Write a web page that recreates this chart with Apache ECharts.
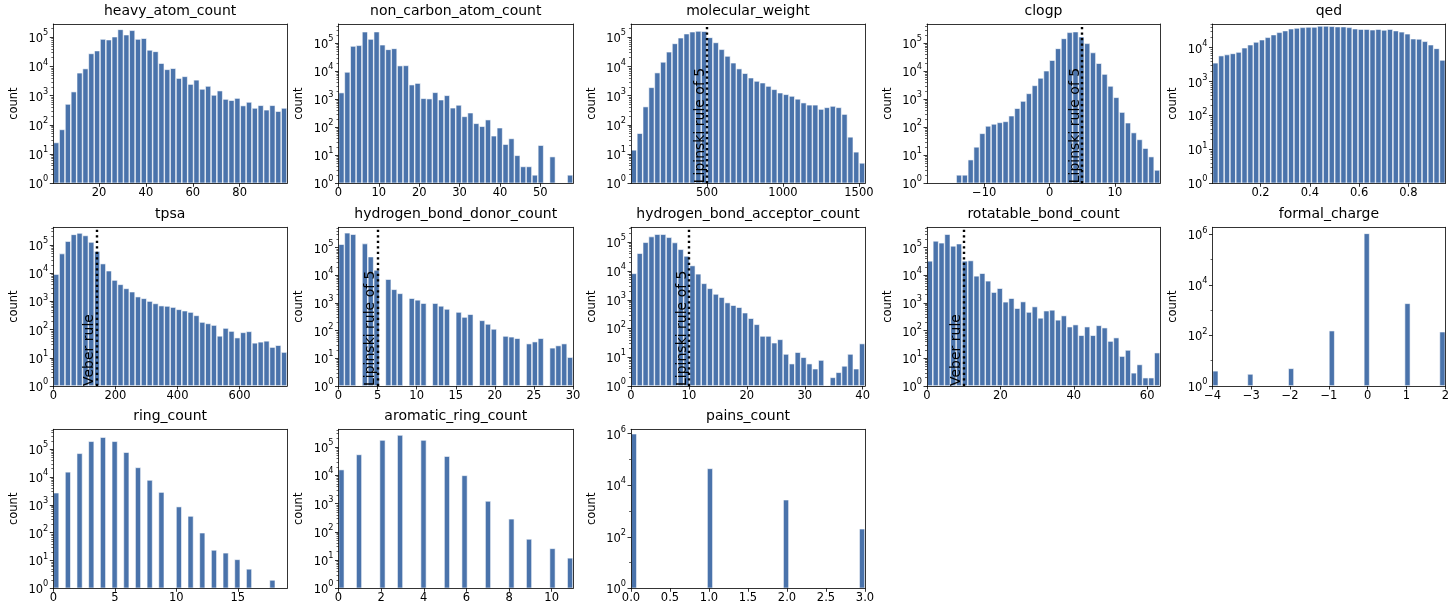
<!DOCTYPE html>
<html>
<head>
<meta charset="utf-8">
<script src="https://cdn.jsdelivr.net/npm/echarts@6/dist/echarts.min.js"></script>
<style>
html,body{margin:0;padding:0;background:#fff;}
#chart{width:1456px;height:616px;}
</style>
</head>
<body>
<div id="chart"></div>
<script>
// ---------- DATA (counts per histogram bin, 40 bins each) ----------
const heavyAtomCount = [25,70,520,1380,6100,8500,28000,35000,87000,83000,105000,187000,123000,174000,87000,93000,37000,33000,13000,8000,8700,4000,4600,2500,3500,1700,2150,1060,1490,770,700,830,460,610,380,470,330,470,295,380];
const nonCarbonAtomCount = [1740,9500,80000,85000,260000,142000,262000,89000,61000,66000,16000,16300,3340,3800,1090,1060,1780,970,1390,500,630,246,333,139,109,188,50,97,25,40,10,4,4,2,23,0,9,0,0,2];
const molecularWeight = [14,52,425,1940,6200,14400,32000,62000,97000,134000,156000,165000,162000,100000,67000,39000,23000,13500,8500,5900,4150,3200,2800,2150,1660,1270,1120,980,780,580,490,490,350,400,445,400,235,39,12,5];
const clogp = [0,0,0,0,0,2,2,7,20,61,112,132,150,163,260,480,870,1630,3150,5800,10500,25000,66000,150000,247000,262000,173000,100000,47000,19500,8000,3000,1180,350,146,65,37,18,9,3];
const qed = [3600,5850,6300,6800,7450,10000,12300,14800,17300,20300,24400,28500,32000,36500,38200,40000,41000,41000,44000,44000,43000,42000,42000,40000,36500,35500,35500,34000,35500,33500,35500,32000,29500,25800,18500,18200,15500,12300,9600,4350];
const tpsa = [9300,50000,138000,240000,268000,219000,128000,61000,22000,12300,5750,4050,2900,2220,1480,1290,1030,850,710,690,630,525,470,420,320,186,166,145,60,114,89,52,80,87,34,37,40,24,28,16];
const hbdValues = [0,1,2,3,4,5,6,7,8,9,10,11,12,13,14,15,16,17,18,19,20,21,22,23,24,25,26,27,28,29,30];
const hbdCounts = [132000,340000,302000,139000,47000,15500,7200,3100,2220,1480,1290,980,980,780,605,470,310,390,235,174,115,64,60,53,34,40,53,24,29,34,11];
const hbaCount = [8300,41500,100000,158000,190000,190000,149000,98000,57000,33500,15500,8000,3730,2500,1590,1230,800,645,550,355,228,140,55,55,32,42,13,6,15,10,6,4,8,0,2,3,5,13,4,30];
const rotatableBondCount = [33000,174000,148000,302000,115000,138000,33000,34000,9500,11800,6300,2450,3400,1100,1480,645,1120,470,740,288,525,560,245,350,139,165,68,139,68,155,128,42,56,12,20,3,6,2,2,16];
const formalChargeValues = [-4,-3,-2,-1,0,1,2];
const formalChargeCounts = [4,3,5,155,1100000,1870,141];
const ringValues = [0,1,2,3,4,5,6,7,8,9,10,11,12,13,14,15,16,18];
const ringCounts = [2750,15500,72000,195000,275000,195000,79000,22400,7900,2900,870,400,100,24,19,11,5,2];
const aromaticValues = [0,1,2,3,4,5,6,7,8,9,10,11];
const aromaticCounts = [16000,55000,178000,268000,178000,48000,10000,1240,290,56,26,12];
const painsValues = [0,1,2,3];
const painsCounts = [1000000,45000,2750,205];

// ---------- TICK LABELS ----------
const heavyTicks = [20,40,60,80];
const nonCarbonTicks = [0,10,20,30,40,50];
const mwTicks = [500,1000,1500];
const clogpTicks = [-10,0,10];
const qedTicks = [0.2,0.4,0.6,0.8];
const tpsaTicks = [0,200,400,600];
const hbdTicks = [0,5,10,15,20,25,30];
const hbaTicks = [0,10,20,30,40];
const rotTicks = [0,20,40,60];
const formalTicks = [-4,-3,-2,-1,0,1,2];
const ringTicks = [0,5,10,15];
const aromaticTicks = [0,2,4,6,8,10];
const painsTicks = [0,0.5,1,1.5,2,2.5,3];

// ---------- LAYOUT ----------
const ROWS = [[24,183.3],[227.3,386],[429.3,588.3]];
const COLS = [[53.3,287],[338.5,573],[631,865],[927,1160],[1212.5,1445.3]];
const N_BINS = 40;
const BAR_COLOR = '#4a73ab';
const FONT = 'DejaVu Sans';

const panels = [
  {title:'heavy_atom_count', bins:heavyAtomCount, xMin:0.5, xMax:100.2, yExp:5.455, ticks:heavyTicks, row:0, col:0},
  {title:'non_carbon_atom_count', bins:nonCarbonAtomCount, xMin:0, xMax:58.1, yExp:5.69, ticks:nonCarbonTicks, row:0, col:1},
  {title:'molecular_weight', bins:molecularWeight, xMin:0, xMax:1540, yExp:5.457, ticks:mwTicks, row:0, col:2, ref:{x:500, text:'Lipinski rule of 5'}},
  {title:'clogp', bins:clogp, xMin:-18.75, xMax:16.9, yExp:5.69, ticks:clogpTicks, row:0, col:3, ref:{x:5, text:'Lipinski rule of 5'}},
  {title:'qed', bins:qed, xMin:0.005, xMax:0.95, yExp:4.70, ticks:qedTicks, row:0, col:4},
  {title:'tpsa', bins:tpsa, xMin:0, xMax:752.7, yExp:5.63, ticks:tpsaTicks, row:1, col:0, ref:{x:140, text:'Veber rule'}},
  {title:'hydrogen_bond_donor_count', values:hbdValues, counts:hbdCounts, xMin:0, xMax:30, yExp:5.73, ticks:hbdTicks, row:1, col:1, ref:{x:5, text:'Lipinski rule of 5'}},
  {title:'hydrogen_bond_acceptor_count', bins:hbaCount, xMin:0, xMax:40.4, yExp:5.52, ticks:hbaTicks, row:1, col:2, ref:{x:10, text:'Lipinski rule of 5'}},
  {title:'rotatable_bond_count', bins:rotatableBondCount, xMin:0, xMax:63.5, yExp:5.73, ticks:rotTicks, row:1, col:3, ref:{x:10, text:'Veber rule'}},
  {title:'formal_charge', values:formalChargeValues, counts:formalChargeCounts, xMin:-4, xMax:2, yExp:6.28, yStep:2, ticks:formalTicks, row:1, col:4},
  {title:'ring_count', values:ringValues, counts:ringCounts, xMin:0, xMax:19, yExp:5.72, ticks:ringTicks, row:2, col:0},
  {title:'aromatic_ring_count', values:aromaticValues, counts:aromaticCounts, xMin:0, xMax:11, yExp:5.63, ticks:aromaticTicks, row:2, col:1},
  {title:'pains_count', values:painsValues, counts:painsCounts, xMin:0, xMax:3, yExp:6.17, yStep:2, ticks:painsTicks, decimals:1, row:2, col:2}
];

function makeBins(p){
  if (p.bins) return p.bins;
  const w = (p.xMax - p.xMin) / N_BINS;
  const out = new Array(N_BINS).fill(0);
  p.values.forEach((v, i) => {
    let b = Math.floor((v - p.xMin) / w + 1e-9);
    b = Math.min(N_BINS - 1, Math.max(0, b));
    out[b] += p.counts[i];
  });
  return out;
}

function fmtX(v, dec){
  let s = dec != null ? Math.abs(v).toFixed(dec) : String(Math.abs(v));
  return (v < 0 ? '\u2212' : '') + s;
}

const lineStyle = {color:'#000', width:0.8};
const grid = [], xAxis = [], yAxis = [], series = [], title = [];

panels.forEach((p, i) => {
  const [left, right] = p.xBounds || COLS[p.col];
  const [top, bottom] = ROWS[p.row];
  const gw = right - left;
  grid.push({left:left, top:top, width:gw, height:bottom-top, show:false});
  title.push({
    text:p.title, left:(left+right)/2, top:top-19.5, textAlign:'center', padding:0,
    textStyle:{fontSize:14, fontWeight:'normal', color:'#000', fontFamily:FONT}
  });
  const bins = makeBins(p);
  const w = (p.xMax - p.xMin) / N_BINS;
  const yMax = Math.pow(10, p.yExp);
  const step = p.yStep || 1;
  const majors = [];
  for (let k = 0; k <= p.yExp + 1e-9; k += step) majors.push(Math.pow(10, k));
  const minors = [];
  if (step === 1) {
    for (let k = 0; k <= Math.floor(p.yExp); k++)
      for (let m = 2; m <= 9; m++) { const v = m * Math.pow(10, k); if (v <= yMax) minors.push(v); }
  } else {
    for (let k = 1; k <= p.yExp; k += 2) minors.push(Math.pow(10, k));
  }

  const xi = xAxis.length;
  xAxis.push({
    gridIndex:i, type:'value', min:p.xMin, max:p.xMax, position:'bottom', z:4,
    axisLine:{show:true, onZero:false, lineStyle:lineStyle},
    axisTick:{show:true, length:3.5, customValues:p.ticks, lineStyle:lineStyle},
    axisLabel:{show:true, customValues:p.ticks, margin:4, fontSize:11.5, color:'#000', fontFamily:FONT,
      formatter:(v) => fmtX(v, p.decimals)},
    splitLine:{show:false}
  });
  xAxis.push({
    gridIndex:i, type:'value', min:p.xMin, max:p.xMax, position:'top', z:4,
    axisLine:{show:true, onZero:false, lineStyle:lineStyle},
    axisTick:{show:false}, axisLabel:{show:false}, splitLine:{show:false}
  });

  const yi = yAxis.length;
  yAxis.push({
    gridIndex:i, type:'log', logBase:10, min:1, max:yMax, position:'left', z:4,
    axisLine:{show:true, onZero:false, lineStyle:lineStyle},
    axisTick:{show:true, length:3.5, customValues:majors, lineStyle:lineStyle},
    axisLabel:{show:true, customValues:majors, margin:5,
      formatter:(v) => '{b|10}{s|' + Math.round(Math.log10(v)) + '}',
      rich:{
        b:{fontSize:11.5, color:'#000', fontFamily:FONT, lineHeight:16, verticalAlign:'bottom'},
        s:{fontSize:8.2, color:'#000', fontFamily:FONT, lineHeight:10, verticalAlign:'top'}
      }},
    name:'count', nameLocation:'middle', nameGap:33,
    nameTextStyle:{fontSize:11.5, color:'#000', fontFamily:FONT},
    splitLine:{show:false}
  });
  yAxis.push({
    gridIndex:i, type:'log', logBase:10, min:1, max:yMax, position:'right', z:4,
    axisLine:{show:true, onZero:false, lineStyle:lineStyle},
    axisTick:{show:false}, axisLabel:{show:false}, splitLine:{show:false}
  });
  yAxis.push({
    gridIndex:i, type:'log', logBase:10, min:1, max:yMax, position:'left', z:4,
    axisLine:{show:false, onZero:false},
    axisTick:{show:true, length:2, customValues:minors, lineStyle:{color:'#000', width:0.6}},
    axisLabel:{show:false}, splitLine:{show:false}
  });

  const s = {
    type:'bar', xAxisIndex:xi, yAxisIndex:yi, silent:true,
    barWidth:gw / N_BINS,
    data:bins.map((c, j) => [p.xMin + (j + 0.5) * w, c > 0 ? c : '-']),
    itemStyle:{color:BAR_COLOR, borderColor:'#ffffff', borderWidth:0.6}
  };
  if (p.ref) {
    s.markLine = {
      silent:true, symbol:['none','none'], animation:false,
      lineStyle:{color:'#000', width:2.4, type:[2.2,3.3], cap:'butt'},
      label:{show:true, formatter:p.ref.text, position:'insideStartTop', distance:[0,0],
        fontSize:14, color:'#000', fontFamily:FONT},
      emphasis:{disabled:true},
      data:[{xAxis:p.ref.x}]
    };
  }
  series.push(s);
});

const chart = echarts.init(document.getElementById('chart'), null, {renderer:'canvas'});
chart.setOption({
  backgroundColor:'#ffffff',
  animation:false,
  title:title, grid:grid, xAxis:xAxis, yAxis:yAxis, series:series
});
</script>
</body>
</html>
